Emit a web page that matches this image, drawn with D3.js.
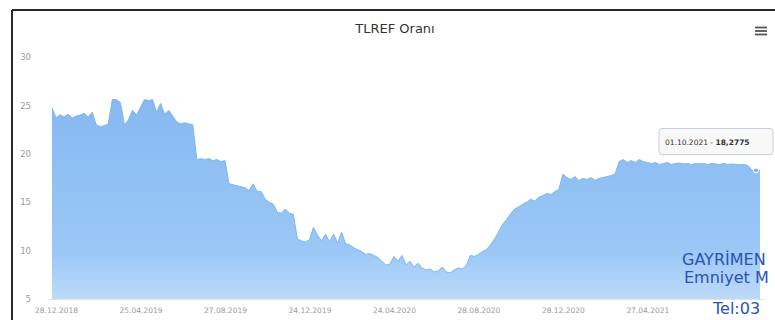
<!DOCTYPE html>
<html><head><meta charset="utf-8">
<script src="https://cdn.jsdelivr.net/npm/d3@7"></script>
<style>html,body{margin:0;padding:0;background:#fff;}svg{display:block;}</style>
</head><body><svg id="c" width="775" height="320"></svg>
<script>
// TLREF values (approximate samples)
const values = [
  24.75,23.72,24.03,23.8,24.1,23.7,23.9,24.0,24.2,23.8,
  24.3,23.0,22.8,22.9,23.1,25.6,25.6,25.3,23.0,23.5,
  24.5,24.0,24.8,25.6,25.5,25.6,24.3,25.2,24.1,24.5,
  23.9,23.3,23.1,23.2,23.1,23.0,19.4,19.5,19.4,19.5,
  19.3,19.4,19.2,19.3,16.9,16.8,16.7,16.6,16.5,16.2,
  16.9,16.1,16.1,15.3,15.0,14.8,14.0,13.85,14.3,13.85,
  13.75,11.2,11.0,10.9,11.1,12.4,11.6,11.0,11.7,10.9,
  11.7,10.8,11.9,10.7,10.6,10.3,10.1,9.9,9.6,9.7,
  9.5,9.3,8.9,8.5,8.6,9.4,8.9,9.5,8.5,8.9,
  8.3,8.7,8.2,8.0,8.1,7.8,7.9,8.3,7.8,7.7,
  8.0,8.2,8.1,8.5,9.5,9.4,9.6,9.9,10.1,10.6,
  11.2,11.9,12.7,13.2,13.8,14.3,14.5,14.8,15.0,15.3,
  15.1,15.5,15.7,15.9,15.8,16.1,16.3,17.9,17.55,17.35,
  17.65,17.25,17.45,17.35,17.55,17.25,17.45,17.55,17.65,17.75,
  17.95,19.2,19.4,19.1,19.3,19.1,19.4,19.2,19.1,19.0,
  19.1,18.9,19.0,19.1,18.9,19.0,19.05,18.95,19.0,18.9,
  19.0,18.95,19.0,18.9,19.0,18.95,18.9,19.0,18.9,18.95,
  18.9,18.85,18.9,18.8,18.3,18.28,18.28
];
const xTickLabels = ["28.12.2018","25.04.2019","27.08.2019","24.12.2019","24.04.2020","28.08.2020","28.12.2020","27.04.2021"];
const yTickValues = [5,10,15,20,25,30];
const titleText = "TLREF Oranı";
const tooltipIndex = 175;
const tooltipDate = "01.10.2021";
const tooltipValue = "18,2775";
const watermarkLines = ["GAYRİMEN","Emniyet M","Tel:03"];

const tickStart = 1, tickEvery = 21;
const svg = d3.select("#c");
const x = d3.scaleLinear().domain([0, values.length - 1]).range([52, 760]);
const y = d3.scaleLinear().domain([5, 30]).range([299, 57]);

// frame
svg.append("rect").attr("x",0).attr("y",0).attr("width",775).attr("height",320).attr("fill","#fff");
svg.append("line").attr("x1",12).attr("x2",775).attr("y1",10).attr("y2",10).attr("stroke","#2a2a2a").attr("stroke-width",2);
svg.append("line").attr("x1",12).attr("x2",12).attr("y1",10).attr("y2",320).attr("stroke","#2a2a2a").attr("stroke-width",2);

// gradient
const defs = svg.append("defs");
const g = defs.append("linearGradient").attr("id","ag").attr("gradientUnits","userSpaceOnUse")
  .attr("x1",0).attr("x2",0).attr("y1",100).attr("y2",299);
g.append("stop").attr("offset","0%").attr("stop-color","#86b9f1");
g.append("stop").attr("offset","75%").attr("stop-color","#9ac7f6");
g.append("stop").attr("offset","100%").attr("stop-color","#bcdaf9");

const area = d3.area().x((d,i)=>x(i)).y0(y(5)).y1(d=>y(d));
svg.append("path").datum(values).attr("d",area).attr("fill","url(#ag)");
const line = d3.line().x((d,i)=>x(i)).y(d=>y(d));
svg.append("path").datum(values).attr("d",line).attr("fill","none").attr("stroke","#80b6ee").attr("stroke-width",1);

// x axis
const tickIdx = xTickLabels.map((_,k)=>tickStart + k*tickEvery);
const xAxis = d3.axisBottom(x).tickValues(tickIdx).tickFormat((d,k)=>xTickLabels[k]).tickSize(0).tickPadding(9);
const xg = svg.append("g").attr("transform",`translate(0,${y(5)})`).call(xAxis);
xg.select(".domain").attr("stroke","#dde4ee").attr("d",`M48,0.5H765`);
xg.selectAll("text").attr("font-family","DejaVu Sans, sans-serif").attr("font-size","7.5px").attr("fill","#9a9a9a");

// y axis
const yAxis = d3.axisLeft(y).tickValues(yTickValues).tickFormat(d3.format("d")).tickSize(0).tickPadding(0);
const yg = svg.append("g").attr("transform","translate(31,0)").call(yAxis);
yg.select(".domain").remove();
yg.selectAll("text").attr("font-family","DejaVu Sans, sans-serif").attr("font-size","8.5px").attr("fill","#9a9a9a");

// title
svg.append("text").attr("x",395).attr("y",28).attr("text-anchor","middle").attr("dominant-baseline","central")
  .attr("font-family","DejaVu Sans, sans-serif").attr("font-size","13px").attr("fill","#333").text(titleText);

// hamburger
[27.5,31,34.5].forEach(v=>svg.append("line").attr("x1",755).attr("x2",767).attr("y1",v).attr("y2",v).attr("stroke","#555").attr("stroke-width",1.8));

// hover marker
svg.append("circle").attr("cx",x(tooltipIndex)).attr("cy",y(values[tooltipIndex])).attr("r",2.5)
  .attr("fill","#7cb5ec").attr("stroke","#fff").attr("stroke-width",1);

// tooltip
svg.append("rect").attr("x",659).attr("y",128.5).attr("width",114).attr("height",26).attr("rx",3)
  .attr("fill","rgba(247,247,247,0.9)").attr("stroke","#c4d0dc").attr("stroke-width",1);
const tt = svg.append("text").attr("x",665).attr("y",142).attr("dominant-baseline","central")
  .attr("font-family","DejaVu Sans, sans-serif").attr("font-size","7.5px").attr("fill","#333");
tt.append("tspan").text(tooltipDate + " - ");
tt.append("tspan").attr("font-weight","bold").text(tooltipValue);

// watermark
const wm = [[682,265],[684,283],[713,314]];
watermarkLines.forEach((t,k)=>svg.append("text").attr("x",wm[k][0]).attr("y",wm[k][1])
  .attr("font-family","DejaVu Sans, sans-serif").attr("font-size","16px").attr("fill","#2c52b4").text(t));
</script></body></html>
